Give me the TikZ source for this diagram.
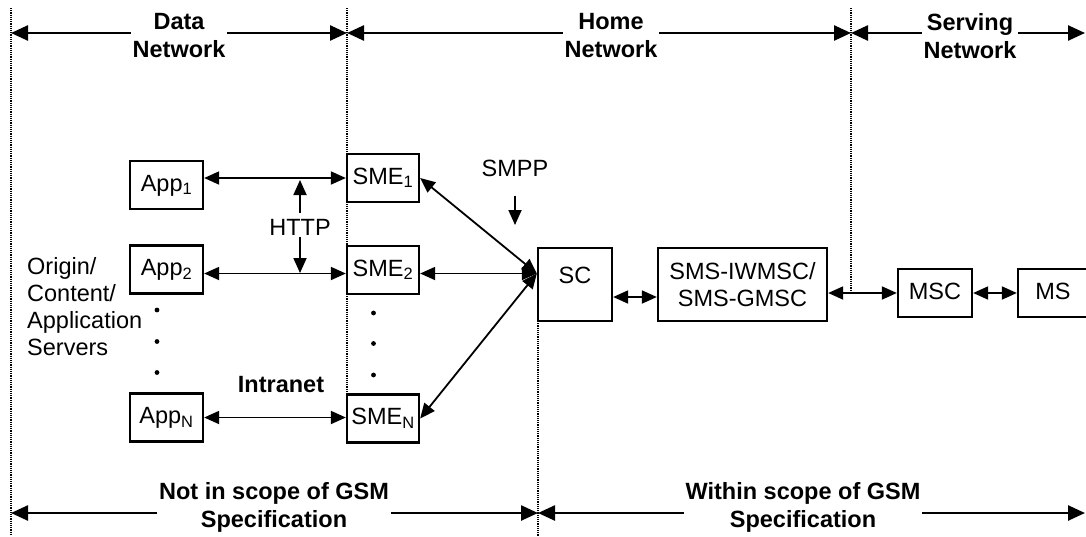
\documentclass[tikz,border=0pt]{standalone}
\usepackage{fontspec}
\setmainfont{Liberation Sans}
\usetikzlibrary{arrows.meta}
\newcommand\myfs{\fontsize{23.5}{27}\selectfont}
\newcommand\myfsb{\fontsize{23.5}{28}\selectfont\bfseries}
\begin{document}
\begin{tikzpicture}[x=1pt,y=-1pt,
  box/.style={draw, line width=2.3pt, inner sep=0pt, minimum width=73pt, minimum height=48pt, font=\myfs, text height=17pt, text depth=5pt},
  lbl/.style={inner sep=2pt, font=\myfs, align=left},
  head/.style={inner sep=1.5pt, font=\myfsb, align=center},
  biarrow/.style={line width=1.8pt, {Triangle[length=15pt,width=13pt]}-{Triangle[length=15pt,width=13pt]}},
  onearrow/.style={line width=1.8pt, -{Triangle[length=15pt,width=13pt]}},
  bigarrow/.style={line width=2.5pt, -{Triangle[length=17pt,width=15pt]}},
  divider/.style={line width=1.2pt, dash pattern=on 1.2pt off 1pt}]
\useasboundingbox (0,0) rectangle (1086,536);
\clip (0,0) rectangle (1086,536);

% dotted dividers
\draw[divider] (11,8) -- (11,536);
\draw[divider] (347,8) -- (347,394);
\draw[divider] (538,321) -- (538,536);
\draw[divider] (851,8) -- (851,293);

% top region labels and arrows
\coordinate (tA) at (11,33);
\coordinate (tB) at (347,33);
\coordinate (tC) at (851,33);
\coordinate (tD) at (1085,33);
\node[head] (dn) at (179,36) {Data\\Network};
\node[head] (hn) at (611,36) {Home\\Network};
\node[head] (sn) at (970,36) {Serving\\Network};
\draw[bigarrow] (dn.west |- tA) -- (tA);
\draw[bigarrow] (dn.east |- tB) -- (tB);
\draw[bigarrow] (hn.west |- tB) -- (tB);
\draw[bigarrow] (hn.east |- tC) -- (tC);
\draw[bigarrow] (sn.west |- tC) -- (tC);
\draw[bigarrow] (sn.east |- tD) -- (tD);

% bottom region labels and arrows
\coordinate (bA) at (11,513);
\coordinate (bB) at (538,513);
\coordinate (bC) at (1085,513);
\node[head] (nis) at (274,507.5) {Not in scope of GSM\\Specification};
\node[head] (wis) at (803,507.5) {Within scope of GSM\\Specification};
\draw[bigarrow] (nis.west |- bA) -- (bA);
\draw[bigarrow] (nis.east |- bB) -- (bB);
\draw[bigarrow] (wis.west |- bB) -- (bB);
\draw[bigarrow] (wis.east |- bC) -- (bC);

% boxes
\node[box] (App1) at (166.5,185) {App\textsubscript{1}};
\node[box] (App2) at (166.5,269.5) {App\textsubscript{2}};
\node[box] (AppN) at (166.5,417.5) {App\textsubscript{N}};
\node[box, minimum width=72pt] (SME1) at (383,178) {SME\textsubscript{1}};
\node[box, minimum width=72pt] (SME2) at (383,270) {SME\textsubscript{2}};
\node[box, minimum width=72pt] (SMEN) at (383,418.5) {SME\textsubscript{N}};
\node[box, minimum width=74pt, text height=35.5pt, text depth=37.5pt] (SC) at (575,284.5) {SC};
\node[box, minimum width=169pt, minimum height=73pt, align=center, text height=, text depth=] (SMS) at (742.5,284.5) {SMS-IWMSC/\\SMS-GMSC};
\node[box, minimum width=74pt] (MSC) at (935,293) {MSC};
\node[box, minimum width=70pt] (MS) at (1053,293) {MS};

% labels
\node[lbl, anchor=west] (orig) at (25,307) {Origin/\\Content/\\Application\\Servers};
\node[lbl] (http) at (300,227) {HTTP};
\node[lbl] (smpp) at (515,168) {SMPP};
\node[head] (intra) at (281,385) {Intranet};

% dots
\fill (157,310) circle (2.4);
\fill (157,341.5) circle (2.4);
\fill (157,372.5) circle (2.4);
\fill (373.5,313) circle (2.4);
\fill (373.5,343.5) circle (2.4);
\fill (373.5,375) circle (2.4);

% connectors
\draw[biarrow] ([yshift=7pt]App1.east) -- (SME1.west);
\draw[biarrow] ([yshift=-4pt]App2.east) -- ([yshift=-4pt]App2.east -| SME2.west);
\draw[biarrow] (AppN.east) -- (AppN.east -| SMEN.west);
\coordinate (h1) at (300,180);
\coordinate (h2) at (300,273);
\draw[onearrow] ([yshift=4pt]http.north) -- (h1);
\draw[onearrow] (http.south) -- (h2);
\coordinate (smppB) at (515,225);
\draw[onearrow] ([yshift=-17pt]smpp.south) -- (smppB);
\coordinate (scin) at ([yshift=11pt]SC.west);
\draw[biarrow] (SME1.east) -- (scin);
\draw[biarrow] (scin -| SME2.east) -- (scin);
\draw[biarrow] (SMEN.east) -- (scin);
\draw[biarrow] ([yshift=-12.5pt]SC.east) -- ([yshift=-12.5pt]SC.east -| SMS.west);
\draw[biarrow] (MSC.west -| SMS.east) -- (MSC.west);
\draw[biarrow] (MSC.east) -- (MS.west);
\end{tikzpicture}
\end{document}
